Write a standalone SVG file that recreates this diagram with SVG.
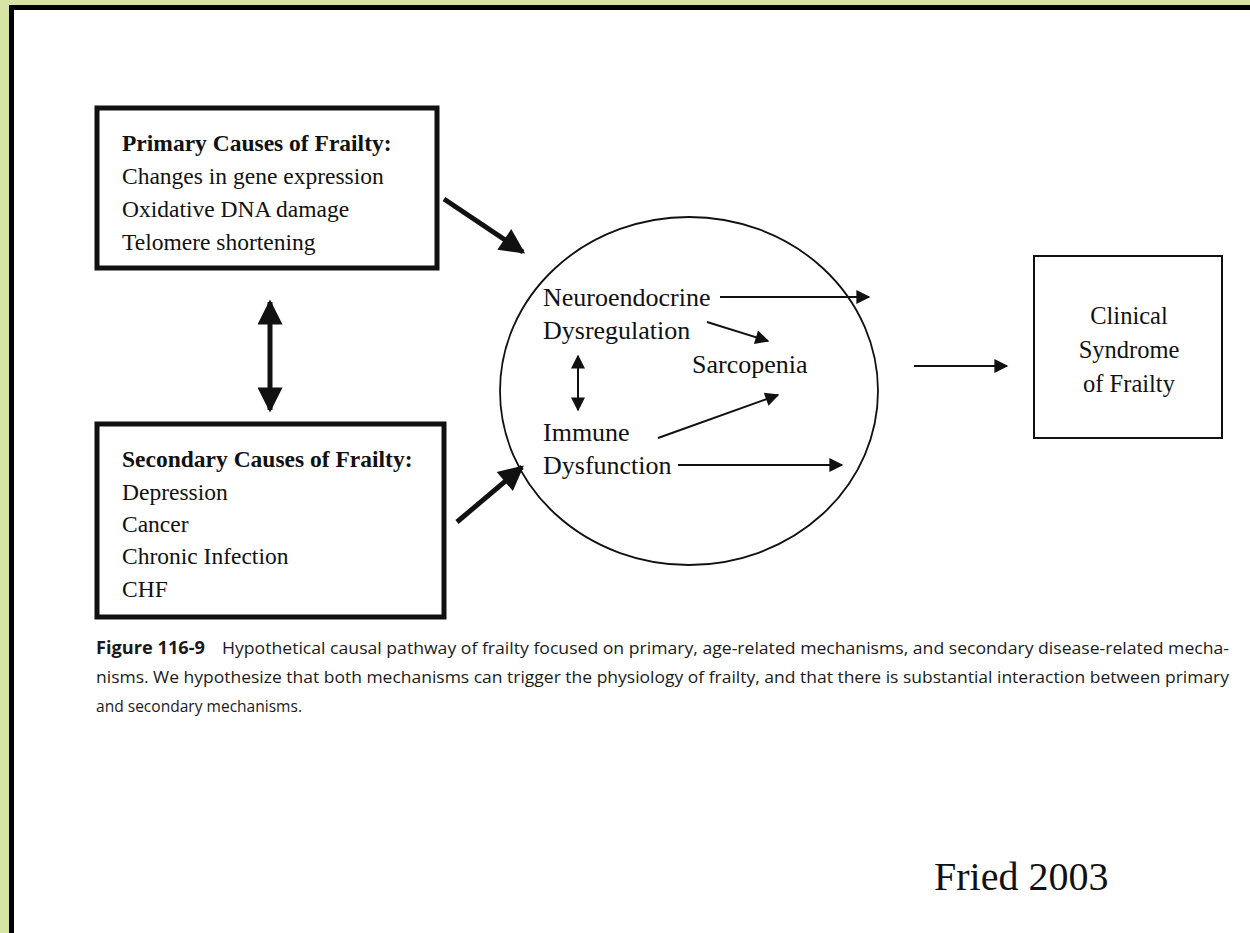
<svg xmlns="http://www.w3.org/2000/svg" width="1250" height="933" viewBox="0 0 1250 933">
  <defs>
    <style>
      .serif { font-family: "Liberation Serif", "Times New Roman", serif; fill: #111; }
      .box-thick { fill: #fff; stroke: #111; stroke-width: 5; }
      .box-thin { fill: #fff; stroke: #111; stroke-width: 2; }
      .thick { stroke: #111; stroke-width: 5; fill: none; }
      .thin { stroke: #111; stroke-width: 2; fill: none; }
      .cap { font-family: "Open Sans", "Noto Sans", sans-serif; font-size: 17px; fill: #1a1a1a; }
    </style>
    <marker id="bigHead" viewBox="0 0 10 10" refX="9" refY="5" markerWidth="28" markerHeight="25" markerUnits="userSpaceOnUse" orient="auto-start-reverse">
      <path d="M0,0 L10,5 L0,10 Z" fill="#111"/>
    </marker>
    <marker id="smallHead" viewBox="0 0 10 10" refX="9" refY="5" markerWidth="19" markerHeight="14" markerUnits="userSpaceOnUse" orient="auto-start-reverse">
      <path d="M0,0 L10,5 L0,10 Z" fill="#111"/>
    </marker>
  </defs>

  <!-- slide background and page frame -->
  <rect x="0" y="0" width="1250" height="933" fill="#d7e3a7"/>
  <rect x="11.5" y="7.5" width="1250" height="940" fill="#fff" stroke="#000" stroke-width="5"/>

  <!-- causes boxes -->
  <g id="primary">
    <rect class="box-thick" x="97" y="108" width="340" height="160"/>
    <text class="serif" font-size="23.5" x="122" y="151" font-weight="bold">Primary Causes of Frailty:</text>
    <text class="serif" font-size="23.5" x="122" y="184">Changes in gene expression</text>
    <text class="serif" font-size="23.5" x="122" y="217">Oxidative DNA damage</text>
    <text class="serif" font-size="23.5" x="122" y="250">Telomere shortening</text>
  </g>

  <g id="secondary">
    <rect class="box-thick" x="97" y="424" width="347" height="193"/>
    <text class="serif" font-size="23.5" x="122" y="467" font-weight="bold">Secondary Causes of Frailty:</text>
    <text class="serif" font-size="23.5" x="122" y="500">Depression</text>
    <text class="serif" font-size="23.5" x="122" y="532">Cancer</text>
    <text class="serif" font-size="23.5" x="122" y="564">Chronic Infection</text>
    <text class="serif" font-size="23.5" x="122" y="597">CHF</text>
  </g>

  <!-- physiology circle -->
  <g id="physiology">
    <ellipse cx="689" cy="391" rx="189" ry="174" fill="none" stroke="#111" stroke-width="1.8"/>
    <text class="serif" font-size="26" x="543" y="306">Neuroendocrine</text>
    <text class="serif" font-size="26" x="543" y="339">Dysregulation</text>
    <text class="serif" font-size="26" x="692" y="373">Sarcopenia</text>
    <text class="serif" font-size="26" x="543" y="441">Immune</text>
    <text class="serif" font-size="26" x="543" y="474">Dysfunction</text>
  </g>

  <g id="clinical">
    <rect class="box-thin" x="1034" y="256" width="188" height="182"/>
    <text class="serif" font-size="24.5" x="1129" y="324" text-anchor="middle">Clinical</text>
    <text class="serif" font-size="24.5" x="1129" y="358" text-anchor="middle">Syndrome</text>
    <text class="serif" font-size="24.5" x="1129" y="392" text-anchor="middle">of Frailty</text>
  </g>

  <!-- connectors -->
  <g id="connectors">
    <line class="thick" x1="270" y1="302" x2="270" y2="410" marker-start="url(#bigHead)" marker-end="url(#bigHead)"/>
    <line class="thick" x1="444" y1="199" x2="523" y2="252" marker-end="url(#bigHead)"/>
    <line class="thick" x1="457" y1="522" x2="522" y2="467" marker-end="url(#bigHead)"/>
    <line class="thin" x1="720" y1="297" x2="869" y2="297" marker-end="url(#smallHead)"/>
    <line class="thin" x1="707" y1="322" x2="768" y2="341" marker-end="url(#smallHead)"/>
    <line class="thin" x1="578" y1="356" x2="578" y2="410" marker-start="url(#smallHead)" marker-end="url(#smallHead)"/>
    <line class="thin" x1="658" y1="438" x2="778" y2="395" marker-end="url(#smallHead)"/>
    <line class="thin" x1="678" y1="465" x2="842" y2="465" marker-end="url(#smallHead)"/>
    <line class="thin" x1="914" y1="366" x2="1007" y2="366" marker-end="url(#smallHead)"/>
  </g>

  <!-- figure caption -->
  <g id="caption">
    <text class="cap" x="96" y="654" font-weight="bold" textLength="109" lengthAdjust="spacingAndGlyphs">Figure 116-9</text>
    <text class="cap" x="222" y="654" textLength="1007" lengthAdjust="spacingAndGlyphs">Hypothetical causal pathway of frailty focused on primary, age-related mechanisms, and secondary disease-related mecha-</text>
    <text class="cap" x="96" y="683" textLength="1133" lengthAdjust="spacingAndGlyphs">nisms. We hypothesize that both mechanisms can trigger the physiology of frailty, and that there is substantial interaction between primary</text>
    <text class="cap" x="96" y="712" textLength="206" lengthAdjust="spacingAndGlyphs">and secondary mechanisms.</text>
  </g>

  <text class="serif" font-size="40" x="934" y="890">Fried 2003</text>
</svg>
